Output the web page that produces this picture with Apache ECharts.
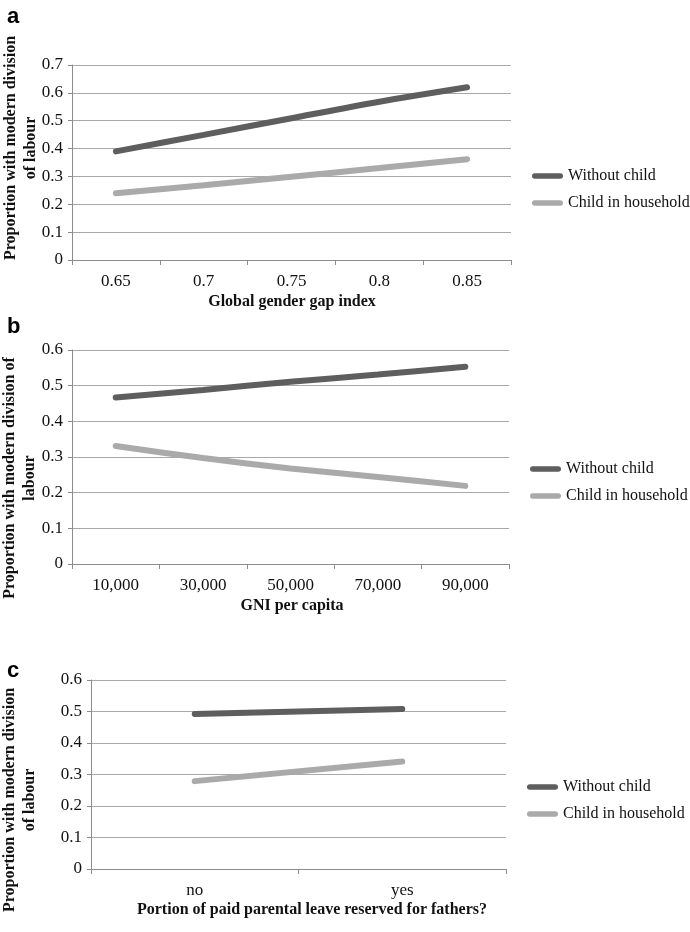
<!DOCTYPE html>
<html>
<head>
<meta charset="utf-8">
<script src="https://cdn.jsdelivr.net/npm/echarts@6/dist/echarts.min.js"></script>
<style>html,body{margin:0;padding:0;background:#fff}#c{width:690px;height:932px}</style>
</head>
<body>
<div id="c"></div>
<script>
// Panel a
const catsA = ['0.65', '0.7', '0.75', '0.8', '0.85'];
const withoutChildA = [0.39, 0.449, 0.509, 0.568, 0.62];
const childA = [0.24, 0.268, 0.299, 0.33, 0.362];
// Panel b
const catsB = ['10,000', '30,000', '50,000', '70,000', '90,000'];
const withoutChildB = [0.467, 0.488, 0.511, 0.531, 0.553];
const childB = [0.331, 0.297, 0.268, 0.244, 0.219];
// Panel c
const catsC = ['no', 'yes'];
const withoutChildC = [0.492, 0.508];
const childC = [0.279, 0.341];

const seriesNames = ['Without child', 'Child in household'];
const xTitles = ['Global gender gap index', 'GNI per capita', 'Portion of paid parental leave reserved for fathers?'];
const yTitles = ['Proportion with modern division\nof labour', 'Proportion with modern division of\nlabour', 'Proportion with modern division\nof labour'];
const panelLetters = ['a', 'b', 'c'];
const yMax = [0.7, 0.6, 0.6];

const DARK = '#5e5e5e', LIGHT = '#aaaaaa';
const SERIF = '"Liberation Serif", "Times New Roman", serif';

const grids = [
  {left: 72, top: 65, width: 439, height: 195},
  {left: 72, top: 350, width: 437, height: 214},
  {left: 91, top: 680, width: 415, height: 189}
];
const cats = [catsA, catsB, catsC];
const dataW = [withoutChildA, withoutChildB, withoutChildC];
const dataC = [childA, childB, childC];
const labelMargins = [13, 13, 13];

const xAxes = cats.map((c, i) => ({
  type: 'category', gridIndex: i, data: c, boundaryGap: true,
  axisLine: {lineStyle: {color: '#8c8c8c', width: 1}},
  axisTick: {show: true, length: 5, lineStyle: {color: '#8c8c8c'}},
  axisLabel: {color: '#111', fontFamily: SERIF, fontSize: 17, margin: labelMargins[i]}
}));
const yAxes = yMax.map((m, i) => ({
  type: 'value', gridIndex: i, min: 0, max: m, interval: 0.1,
  axisLine: {show: true, lineStyle: {color: '#8c8c8c', width: 1}},
  axisTick: {show: true, length: 4, lineStyle: {color: '#8c8c8c'}},
  axisLabel: {color: '#111', fontFamily: SERIF, fontSize: 17, margin: 9,
    formatter: v => (Math.round(v * 10) / 10).toString()},
  splitLine: {lineStyle: {color: '#a9a9a9', width: 1}}
}));

const series = [];
for (let i = 0; i < 3; i++) {
  series.push({
    name: seriesNames[0], type: 'line', xAxisIndex: i, yAxisIndex: i,
    data: dataW[i], smooth: i < 2 ? 0.3 : false, symbol: 'none',
    lineStyle: {color: DARK, width: 6, cap: 'round'}, itemStyle: {color: DARK}
  });
  series.push({
    name: seriesNames[1], type: 'line', xAxisIndex: i, yAxisIndex: i,
    data: dataC[i], smooth: i < 2 ? 0.3 : false, symbol: 'none',
    lineStyle: {color: LIGHT, width: 6, cap: 'round'}, itemStyle: {color: LIGHT}
  });
}

const legendPos = [{left: 532, top: 168}, {left: 530, top: 461}, {left: 527, top: 779}];
const legends = legendPos.map(p => ({
  left: p.left, top: p.top, orient: 'vertical', data: seriesNames, padding: 0,
  itemWidth: 31, itemHeight: 6, itemGap: 11,
  icon: 'path://M3,0 L31,0 A3,3 0 0 1 31,6 L3,6 A3,3 0 0 1 3,0 Z',
  textStyle: {color: '#111', fontFamily: SERIF, fontSize: 16, lineHeight: 16}
}));

const xTitlePos = [[292, 302], [292, 606], [312, 910]];
const yTitlePos = [[21, 148], [20, 478], [20, 800]];
const letterPos = [[7, 28], [7, 338], [7, 682]];
const graphics = [];
for (let i = 0; i < 3; i++) {
  graphics.push({type: 'text', x: xTitlePos[i][0], y: xTitlePos[i][1],
    style: {text: xTitles[i], fill: '#111', font: 'bold 16px ' + SERIF, textAlign: 'center', textVerticalAlign: 'middle'}});
  graphics.push({type: 'text', x: yTitlePos[i][0], y: yTitlePos[i][1], rotation: Math.PI / 2,
    style: {text: yTitles[i], fill: '#111', font: 'bold 16px ' + SERIF, textAlign: 'center', textVerticalAlign: 'middle', lineHeight: 20}});
  graphics.push({type: 'text', x: letterPos[i][0], y: letterPos[i][1],
    style: {text: panelLetters[i], fill: '#000', font: 'bold 22px "Liberation Sans", Arial, sans-serif', textAlign: 'left', textVerticalAlign: 'bottom'}});
}

const chart = echarts.init(document.getElementById('c'), null, {renderer: 'canvas'});
chart.setOption({
  animation: false,
  backgroundColor: '#fff',
  grid: grids,
  xAxis: xAxes,
  yAxis: yAxes,
  legend: legends,
  series: series,
  graphic: graphics
});
</script>
</body>
</html>
